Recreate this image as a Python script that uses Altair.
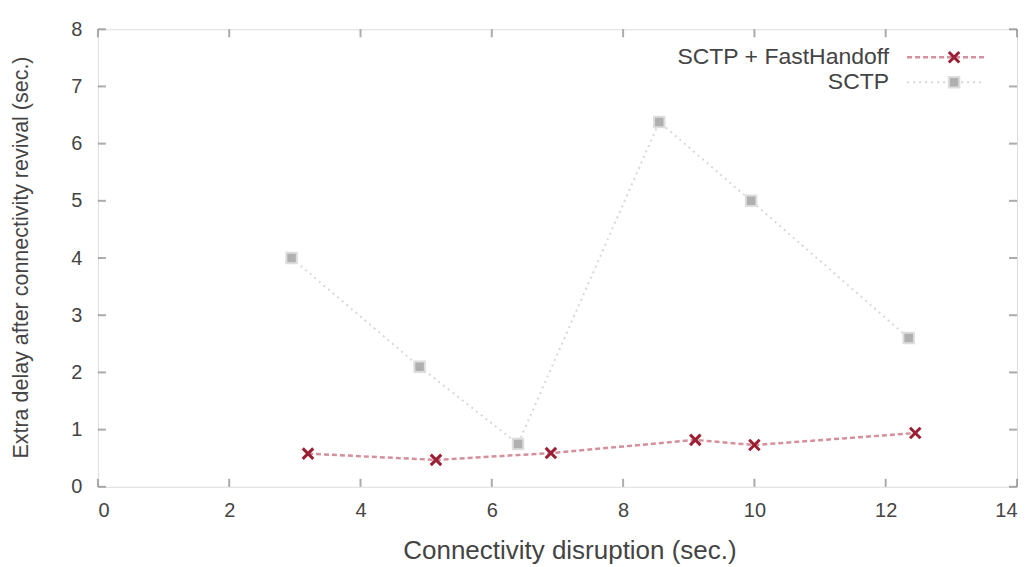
import altair as alt
import pandas as pd

fh_x = [3.2, 5.15, 6.9, 9.1, 10.0, 12.45]
fh_y = [0.58, 0.47, 0.59, 0.82, 0.73, 0.94]
sctp_x = [2.95, 4.9, 6.4, 8.55, 9.95, 12.35]
sctp_y = [4.0, 2.1, 0.75, 6.38, 5.0, 2.6]
x_ticks = [0, 2, 4, 6, 8, 10, 12, 14]
y_ticks = [0, 1, 2, 3, 4, 5, 6, 7, 8]
series_names = ["SCTP + FastHandoff", "SCTP"]

W, H = 920, 458
RED = "#9b1f33"
RED_LINE = "#d4909b"
GRAY = "#b0b0b0"
GRAY_LINE = "#d8d8d8"
FONT = "Liberation Sans"
TXT = "#444444"

fh = pd.DataFrame({"x": fh_x, "y": fh_y})
sc = pd.DataFrame({"x": sctp_x, "y": sctp_y})
xt = pd.DataFrame({"v": x_ticks})
yt = pd.DataFrame({"v": y_ticks})

xs = alt.Scale(domain=[0, 14], nice=False, zero=False)
ys = alt.Scale(domain=[0, 8], nice=False, zero=False)

xaxis = alt.Axis(values=x_ticks, format="d", title="Connectivity disruption (sec.)", grid=False,
                 ticks=False, domain=False, labelPadding=14, labelFontSize=20,
                 titleFontSize=26, titleX=472, titleY=64, titleBaseline="middle",
                 titleLimit=1000, labelColor=TXT, titleColor=TXT,
                 labelFont=FONT, titleFont=FONT, titleFontWeight="normal")
yaxis = alt.Axis(values=y_ticks, format="d", title="Extra delay after connectivity revival (sec.)",
                 grid=False, ticks=False, domain=False, labelPadding=16, labelFontSize=20,
                 titleFontSize=21.5, titleX=-76, titleY=228, titleBaseline="middle",
                 titleAlign="center", titleAngle=270, titleLimit=1000,
                 labelColor=TXT, titleColor=TXT,
                 labelFont=FONT, titleFont=FONT, titleFontWeight="normal")

base_x = alt.X("x:Q", scale=xs, axis=xaxis)
base_y = alt.Y("y:Q", scale=ys, axis=yaxis)

sc_line = alt.Chart(sc).mark_line(color=GRAY_LINE, strokeWidth=2, strokeDash=[2, 4]).encode(x=base_x, y=base_y)
sc_pts = alt.Chart(sc).mark_point(shape="square", filled=True, color=GRAY, size=110, opacity=1,
                                   stroke="#dddddd", strokeWidth=2).encode(x="x:Q", y="y:Q")
fh_line = alt.Chart(fh).mark_line(color=RED_LINE, strokeWidth=2.5, strokeDash=[5, 3]).encode(x="x:Q", y="y:Q")
XSHAPE = "M-1,-1L1,1M1,-1L-1,1"
fh_pts = alt.Chart(fh).mark_point(shape=XSHAPE, filled=False, color=RED, size=110,
                                   strokeWidth=3, opacity=1).encode(x="x:Q", y="y:Q")

# inward tick marks on all four sides
tick_style = dict(color="#888888", thickness=2, size=8)
xt_bot = alt.Chart(xt).mark_tick(orient="vertical", **tick_style).encode(x=alt.X("v:Q", scale=xs), y=alt.value(H - 4))
xt_top = alt.Chart(xt).mark_tick(orient="vertical", **tick_style).encode(x=alt.X("v:Q", scale=xs), y=alt.value(4))
yt_left = alt.Chart(yt).mark_tick(orient="horizontal", **tick_style).encode(y=alt.Y("v:Q", scale=ys), x=alt.value(4))
yt_right = alt.Chart(yt).mark_tick(orient="horizontal", **tick_style).encode(y=alt.Y("v:Q", scale=ys), x=alt.value(W - 4))

# legend (manual, gnuplot-style: text right-aligned, sample to the right)
leg = pd.DataFrame({"name": series_names, "i": [0, 1]})
lx_text, lx0, lx1, lxm = 792, 810, 887, 857
ly = [28, 53]
leg_text0 = alt.Chart(leg.iloc[[0]]).mark_text(align="right", baseline="middle", font=FONT, fontSize=23,
                                              color=TXT).encode(text="name:N", x=alt.value(lx_text), y=alt.value(ly[0]))
leg_text1 = alt.Chart(leg.iloc[[1]]).mark_text(align="right", baseline="middle", font=FONT, fontSize=23,
                                              color=TXT).encode(text="name:N", x=alt.value(lx_text), y=alt.value(ly[1]))
leg_l0 = alt.Chart(leg.iloc[[0]]).mark_rule(color=RED_LINE, strokeWidth=2.5, strokeDash=[5, 3]).encode(
    x=alt.value(lx0), x2=alt.value(lx1), y=alt.value(ly[0]))
leg_l1 = alt.Chart(leg.iloc[[1]]).mark_rule(color=GRAY_LINE, strokeWidth=2, strokeDash=[2, 4]).encode(
    x=alt.value(lx0), x2=alt.value(lx1), y=alt.value(ly[1]))
leg_p0 = alt.Chart(leg.iloc[[0]]).mark_point(shape=XSHAPE, filled=False, color=RED, size=110, strokeWidth=3,
                                             opacity=1).encode(x=alt.value(lxm), y=alt.value(ly[0]))
leg_p1 = alt.Chart(leg.iloc[[1]]).mark_point(shape="square", filled=True, color=GRAY, size=110, opacity=1,
                                             stroke="#dddddd", strokeWidth=2).encode(x=alt.value(lxm), y=alt.value(ly[1]))

chart = alt.layer(
    sc_line, fh_line, sc_pts, fh_pts,
    xt_bot, xt_top, yt_left, yt_right,
    leg_l0, leg_l1, leg_p0, leg_p1, leg_text0, leg_text1,
).properties(
    width=W, height=H,
    autosize=alt.AutoSizeParams(type="none"),
    padding={"left": 90, "top": 21, "right": 10, "bottom": 80},
).configure_view(stroke="#777777", strokeWidth=2.5).configure(background="white")

chart.save("out.html", embed_options={"renderer": "svg", "actions": False})
